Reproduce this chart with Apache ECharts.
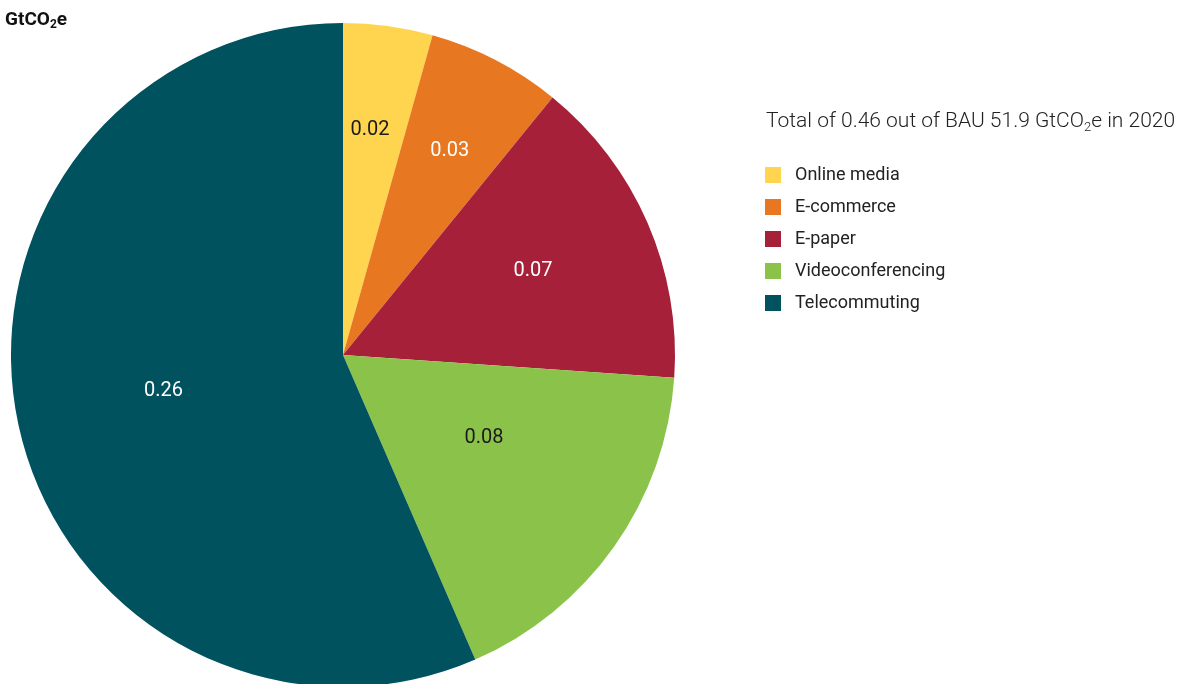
<!DOCTYPE html>
<html>
<head>
<meta charset="utf-8">
<script src="https://cdn.jsdelivr.net/npm/echarts@6/dist/echarts.min.js"></script>
<style>
  html, body { margin: 0; padding: 0; background: #fff; }
  #chart { width: 1195px; height: 684px; }
</style>
</head>
<body>
<div id="chart"></div>
<script>
// emissions reduction by category, GtCO2e
var categories = ['Online media', 'E-commerce', 'E-paper', 'Videoconferencing', 'Telecommuting']
var values = [0.02, 0.03, 0.07, 0.08, 0.26]
var colors = ['#FFD54F', '#E87722', '#A6203A', '#8BC34A', '#00525E']
var labelColors = ['#1a1a1a', '#fff', '#fff', '#1a1a1a', '#fff']
// nudge inside labels out from the half-radius spot
var labelOffsets = [[4, -58], [29, -54], [35, -17], [3, -14], [-14, 2]]

var font = "'Liberation Sans Narrow', 'Roboto', sans-serif"

var chart = echarts.init(document.getElementById('chart'))
chart.setOption({
  backgroundColor: '#fff',
  animation: false,
  title: [{
    text: '{b|GtCO}{bs|2}{b|e}',
    left: 0,
    top: 4,
    padding: [5, 5, 5, 5],
    textStyle: {
      rich: {
        b: { fontFamily: font, fontWeight: 'bold', fontSize: 19, color: '#111' },
        bs: { fontFamily: font, fontWeight: 'bold', fontSize: 12, color: '#111', padding: [10, 0, 0, 0] }
      }
    }
  }, {
    text: '{a|Total of 0.46 out of BAU 51.9 GtCO}{s|2}{a|e in 2020}',
    left: 766,
    top: 110,
    padding: 0,
    textStyle: {
      rich: {
        a: { fontFamily: 'Roboto, sans-serif', fontWeight: 300, fontSize: 21, color: '#222' },
        s: { fontFamily: 'Roboto, sans-serif', fontWeight: 300, fontSize: 13, color: '#222', padding: [11, 0, 0, 0] }
      }
    }
  }],
  legend: {
    orient: 'vertical',
    left: 765,
    top: 166,
    padding: 0,
    icon: 'rect',
    itemWidth: 16,
    itemHeight: 16,
    itemGap: 14,
    data: categories,
    textStyle: { fontFamily: font, fontSize: 18, color: '#222', padding: [0, 0, 0, 9] }
  },
  series: [{
    type: 'pie',
    center: [343, 355],
    radius: 332,
    startAngle: 90,
    clockwise: true,
    color: colors,
    labelLine: { show: false },
    itemStyle: { borderWidth: 0 },
    emphasis: { disabled: true },
    data: categories.map(function (name, i) {
      return {
        name: name,
        value: values[i],
        label: {
          show: true,
          position: 'inside',
          formatter: values[i].toFixed(2),
          color: labelColors[i],
          fontFamily: 'Roboto, sans-serif',
          fontWeight: 'normal',
          fontSize: 20,
          offset: labelOffsets[i],
          textBorderWidth: 0
        }
      }
    })
  }]
})
</script>
</body>
</html>
